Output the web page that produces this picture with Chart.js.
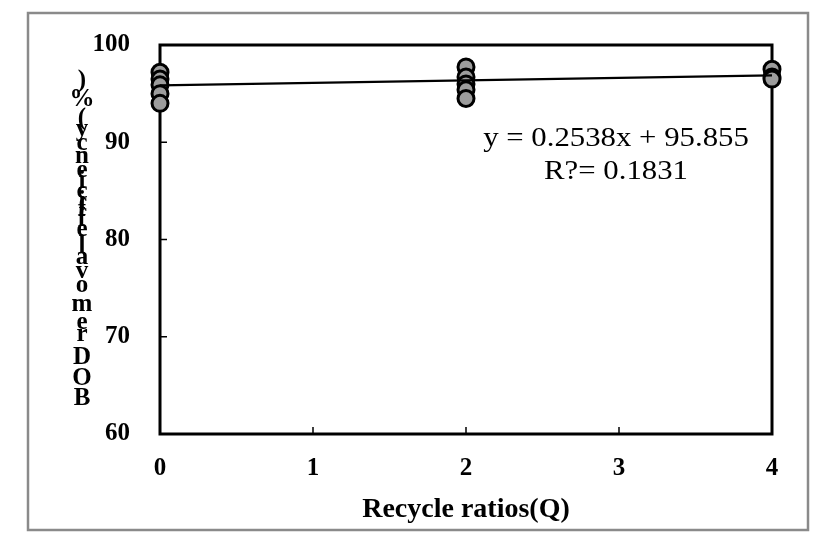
<!DOCTYPE html>
<html>
<head>
<meta charset="utf-8">
<script src="https://cdn.jsdelivr.net/npm/chart.js@4.4.1/dist/chart.umd.min.js"></script>
<style>
  html, body { margin: 0; padding: 0; background: #fff; }
  #wrap { width: 833px; height: 542px; }
</style>
</head>
<body>
<div id="wrap"><canvas id="myChart" width="833" height="542"></canvas></div>
<script>
'use strict';

// * Recycle ratio (Q) for each sample, and BOD removal (%).
const ratios = [0, 0, 0, 0, 0, 2, 2, 2, 2, 2, 4, 4, 4];
const removal = [97.2, 96.5, 95.9, 95.0, 94.0, 97.75, 96.7, 96.0, 95.4, 94.5, 97.5, 96.7, 96.5];

// * Linear trend shown on the chart.
const slope = 0.2538;
const intercept = 95.855;
const trendX = [0, 4];
const trendLabels = ['y = 0.2538x + 95.855', 'R?= 0.1831'];

const xTicks = [0, 1, 2, 3, 4];
const yTicks = [60, 70, 80, 90, 100];
const xTitle = 'Recycle ratios(Q)';
const yTitle = 'BOD removal efficiency(%)';

const serif = "'Liberation Serif', 'Times New Roman', serif";

const canvas = document.getElementById('myChart');
const ctx = canvas.getContext('2d');

const frame = {
  id: 'frame',
  beforeDraw(chart) {
    const c = chart.ctx;
    c.save();
    c.fillStyle = '#fff';
    c.fillRect(0, 0, chart.width, chart.height);
    c.strokeStyle = '#8a8a8a';
    c.lineWidth = 2.5;
    c.strokeRect(28, 13, 780, 517);
    c.restore();
  },
  beforeDatasetsDraw(chart) {
    const { ctx: c, chartArea: a, scales } = chart;
    c.save();
    c.strokeStyle = '#000';
    c.lineWidth = 3;
    c.strokeRect(a.left, a.top, a.right - a.left, a.bottom - a.top);
    // * inward tick marks
    c.lineWidth = 1.5;
    c.beginPath();
    xTicks.slice(1, -1).forEach((v) => {
      const px = scales.x.getPixelForValue(v);
      c.moveTo(px, a.bottom);
      c.lineTo(px, a.bottom - 7);
    });
    yTicks.slice(1, -1).forEach((v) => {
      const py = scales.y.getPixelForValue(v);
      c.moveTo(a.left, py);
      c.lineTo(a.left + 7, py);
    });
    c.stroke();
    c.restore();
  },
  afterDraw(chart) {
    const c = chart.ctx;
    c.save();
    c.fillStyle = '#000';
    c.textAlign = 'center';
    c.textBaseline = 'middle';

    // * trend equation (a little wide, as in the source figure)
    c.save();
    c.font = `28px ${serif}`;
    c.translate(616, 0);
    c.scale(1.1, 1);
    c.fillText(trendLabels[0], 0, 139);
    c.fillText(trendLabels[1], 0, 172);
    c.restore();

    // * y title: upright characters stacked from the bottom up
    c.font = `bold 25px ${serif}`;
    const chars = [...yTitle];
    const widths = chars.map((ch) => c.measureText(ch).width);
    const centers = [];
    let run = 0;
    widths.forEach((w) => {
      centers.push(run + w / 2);
      run += w;
    });
    const yBottom = 399;
    const yTop = 81;
    const k = (yBottom - yTop) / (centers[centers.length - 1] - centers[0]);
    chars.forEach((ch, i) => {
      if (ch === ' ') return;
      c.fillText(ch, 82, yBottom - (centers[i] - centers[0]) * k);
    });
    c.restore();
  },
};

const graph = {
  chart: null,

  charting() {
    graph.chart = new Chart(ctx, {
      type: 'scatter',
      data: {
        datasets: [
          {
            type: 'line',
            data: trendX.map((x) => ({ x, y: slope * x + intercept })),
            borderColor: '#000',
            borderWidth: 2.2,
            pointRadius: 0,
            fill: false,
            clip: false,
            order: 0,
          },
          {
            type: 'scatter',
            data: ratios.map((x, i) => ({ x, y: removal[i] })),
            backgroundColor: '#9d9d9d',
            borderColor: '#000',
            borderWidth: 3,
            pointRadius: 8,
            clip: false,
            order: 1,
          },
        ],
      },
      options: {
        responsive: false,
        animation: false,
        devicePixelRatio: 1,
        layout: { padding: { left: 0, top: 43, right: 61, bottom: 0 } },
        plugins: {
          legend: { display: false },
          tooltip: { enabled: false },
        },
        scales: {
          x: {
            type: 'linear',
            min: 0,
            max: 4,
            afterFit: (s) => { s.height = 108; },
            afterBuildTicks: (s) => { s.ticks = xTicks.map((value) => ({ value })); },
            grid: { display: false, drawTicks: false },
            border: { display: false },
            ticks: {
              padding: 20,
              color: '#000',
              font: { family: serif, size: 25, weight: 'bold' },
            },
            title: {
              display: true,
              text: xTitle,
              color: '#000',
              padding: { top: 0, bottom: 15 },
              font: { family: serif, size: 28, weight: 'bold' },
            },
          },
          y: {
            type: 'linear',
            min: 60,
            max: 100,
            afterFit: (s) => { s.width = 160; },
            afterBuildTicks: (s) => { s.ticks = yTicks.map((value) => ({ value })); },
            grid: { display: false, drawTicks: false },
            border: { display: false },
            ticks: {
              padding: 30,
              color: '#000',
              font: { family: serif, size: 25, weight: 'bold' },
            },
          },
        },
      },
      plugins: [frame],
    });
  },
};

window.addEventListener('load', function () {
  graph.charting();
});
</script>
</body>
</html>
